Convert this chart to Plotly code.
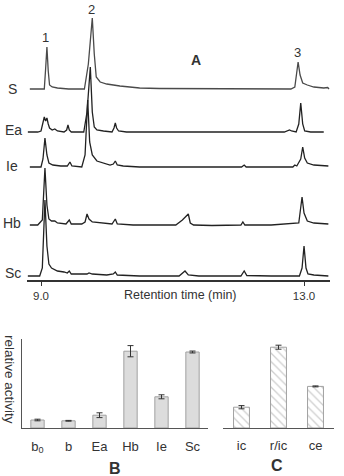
import plotly.graph_objects as go

W, H = 344, 476

# ---------------- Panel A: chromatograms (time in min, signal) ----------------
trace_names = ["S", "Ea", "Ie", "Hb", "Sc"]

S_t = [8.83, 9.05, 9.07, 9.09, 9.11, 9.13, 9.17, 9.25, 9.42, 9.66, 9.72, 9.78, 9.81, 9.84, 9.90,
       10.00, 10.20, 10.50, 10.80, 12.80, 12.86, 12.91, 12.94, 12.98, 13.05, 13.15, 13.30, 13.36, 13.38]
S_y = [0, 0, 20, 42, 18, 4, 2, 1, 0, 0, 25, 71, 35, 12, 7,
       5, 3, 1, 0.5, 0, 2, 27, 14, 6, 4, 2, 1, 1.5, 0]

Ea_t = [8.80, 8.95, 9.00, 9.03, 9.05, 9.07, 9.09, 9.11, 9.13, 9.17, 9.21, 9.25, 9.35, 9.39, 9.41,
        9.43, 9.46, 9.65, 9.70, 9.75, 9.78, 9.81, 9.85, 9.95, 10.08, 10.11, 10.13, 10.15, 10.18,
        10.30, 12.70, 12.78, 12.81, 12.88, 12.92, 12.95, 12.98, 13.01, 13.10, 13.30]
Ea_y = [0, 0, 1, 10, 15, 11, 14, 8, 4, 2, 3, 1, 0, 2, 7,
        2, 0, 0, 20, 65, 20, 5, 2, 1, 0, 4, 9, 4, 1,
        0, 0, 2, 1, 0, 8, 29, 8, 1, 0, 0]

Ie_t = [8.83, 9.00, 9.03, 9.06, 9.09, 9.12, 9.18, 9.30, 9.40, 9.44, 9.47, 9.62, 9.67, 9.71, 9.74,
        9.78, 9.85, 9.95, 10.05, 10.10, 10.13, 10.16, 10.25, 10.50, 12.05, 12.09, 12.12, 12.83,
        12.86, 12.89, 12.95, 12.98, 13.01, 13.05, 13.15, 13.37]
Ie_y = [0, 0, 8, 29, 12, 4, 2, 1, 1, 5, 1, 0, 12, 67, 25,
        12, 6, 4, 2, 3, 6, 2, 1, 0, 0, 2, 0, 0,
        2, 1, 8, 20, 9, 4, 2, 1]

Hb_t = [8.83, 8.95, 9.02, 9.06, 9.09, 9.12, 9.16, 9.21, 9.25, 9.38, 9.43, 9.46, 9.62, 9.67, 9.70,
        9.73, 9.78, 9.90, 10.08, 10.13, 10.16, 10.40, 11.05, 11.15, 11.24, 11.27, 11.32, 11.60,
        12.04, 12.07, 12.10, 12.50, 12.92, 12.97, 13.00, 13.05, 13.15, 13.37]
Hb_y = [0, 0, 5, 57, 20, 6, 4, 4, 2, 1, 5, 1, 1, 3, 11,
        6, 3, 2, 1, 6, 1, 0, 0, 5, 11, 2, 0, -0.5,
        0, 3, 0, 0, 2, 28, 12, 4, 2, 1]

Sc_t = [8.80, 8.98, 9.02, 9.06, 9.09, 9.12, 9.16, 9.25, 9.35, 9.40, 9.43, 9.46, 9.60, 9.70, 9.73,
        9.78, 10.00, 10.10, 10.13, 10.16, 10.50, 11.10, 11.19, 11.24, 11.40, 12.04, 12.09, 12.13,
        12.50, 12.93, 12.97, 13.00, 13.03, 13.06, 13.15, 13.37]
Sc_y = [0, 0, 8, 76, 30, 12, 8, 5, 4, 3, 5, 2, 2, 2, 3,
        2, 1, 2, 4, 1, 0, 0, 5, 1, 0, 0, 5, 0.5,
        0, 0, 8, 30, 8, 2, 1, 0]

chrom = {"S": (S_t, S_y), "Ea": (Ea_t, Ea_y), "Ie": (Ie_t, Ie_y),
         "Hb": (Hb_t, Hb_y), "Sc": (Sc_t, Sc_y)}
offsets = {"S": 191, "Ea": 148, "Ie": 113, "Hb": 55, "Sc": 4}
line_colors = {"S": "#4a4a4a", "Ea": "#222222", "Ie": "#222222", "Hb": "#222222", "Sc": "#222222"}

x_ticks = [9.0, 13.0]
x_ticktext = ["9.0", "13.0"]

# ---------------- Panel B / C: relative activity ----------------
B_cats = ["b<sub>0</sub>", "b", "Ea", "Hb", "Ie", "Sc"]
B_vals = [0.10, 0.09, 0.16, 0.96, 0.39, 0.95]
B_err = [0.01, 0.005, 0.03, 0.07, 0.025, 0.012]

C_cats = ["ic", "r/ic", "ce"]
C_vals = [0.26, 1.01, 0.52]
C_err = [0.02, 0.025, 0.006]


def px(x):
    return x / W


def py(y):
    return 1 - y / H


FONT = "Liberation Sans, Arial, sans-serif"
TXT = "#333333"

fig = go.Figure()

for name in trace_names:
    t, y = chrom[name]
    fig.add_trace(go.Scatter(
        x=t, y=[v + offsets[name] for v in y], mode="lines",
        line=dict(color=line_colors[name], width=1.3),
        xaxis="x", yaxis="y", showlegend=False, hoverinfo="skip"))

fig.add_trace(go.Bar(
    x=B_cats, y=B_vals, width=0.43,
    marker=dict(color="#dcdcdc", line=dict(color="#a0a0a0", width=1)),
    error_y=dict(type="data", array=B_err, color="#333333", thickness=1, width=3),
    xaxis="x2", yaxis="y2", showlegend=False))

fig.add_trace(go.Bar(
    x=C_cats, y=C_vals, width=0.43,
    marker=dict(color="white", line=dict(color="#a0a0a0", width=1),
                pattern=dict(shape="\\", fgcolor="#a0a0a0", bgcolor="white",
                             size=6, solidity=0.22)),
    error_y=dict(type="data", array=C_err, color="#333333", thickness=1, width=3),
    xaxis="x3", yaxis="y3", showlegend=False))

annotations = []
# trace labels
lab_pos = {"S": (12, 89), "Ea": (13, 130), "Ie": (12, 166), "Hb": (12, 223), "Sc": (13, 273)}
for name in trace_names:
    x, y = lab_pos[name]
    annotations.append(dict(x=px(x), y=py(y), xref="paper", yref="paper", text=name,
                            showarrow=False, xanchor="center", yanchor="middle",
                            font=dict(size=14, color=TXT, family=FONT)))
for txt, x, y in [("1", 46, 38), ("2", 92, 9), ("3", 297, 52)]:
    annotations.append(dict(x=px(x), y=py(y), xref="paper", yref="paper", text=txt,
                            showarrow=False, xanchor="center", yanchor="middle",
                            font=dict(size=13, color=TXT, family=FONT)))
annotations.append(dict(x=px(196), y=py(60), xref="paper", yref="paper", text="<b>A</b>",
                        showarrow=False, xanchor="center", yanchor="middle",
                        font=dict(size=14, color=TXT, family=FONT)))
annotations.append(dict(x=px(180), y=py(295), xref="paper", yref="paper",
                        text="Retention time (min)", showarrow=False,
                        xanchor="center", yanchor="middle",
                        font=dict(size=12.5, color=TXT, family=FONT)))
annotations.append(dict(x=px(10), y=py(379), xref="paper", yref="paper",
                        text="relative activity", showarrow=False, textangle=90,
                        xanchor="center", yanchor="middle",
                        font=dict(size=13.5, color=TXT, family=FONT)))
annotations.append(dict(x=px(115), y=py(468), xref="paper", yref="paper", text="<b>B</b>",
                        showarrow=False, xanchor="center", yanchor="middle",
                        font=dict(size=16, color=TXT, family=FONT)))
annotations.append(dict(x=px(277), y=py(465), xref="paper", yref="paper", text="<b>C</b>",
                        showarrow=False, xanchor="center", yanchor="middle",
                        font=dict(size=16, color=TXT, family=FONT)))

fig.update_layout(
    width=W, height=H,
    margin=dict(l=0, r=0, t=0, b=0),
    paper_bgcolor="white", plot_bgcolor="white",
    font=dict(family=FONT, color=TXT),
    bargap=0.5,
    annotations=annotations,
    xaxis=dict(domain=[px(27), px(330)], range=[8.787, 13.395],
               tickvals=x_ticks, ticktext=x_ticktext, ticks="outside", ticklen=4,
               tickcolor="#333", tickwidth=1, showline=True, linecolor="#333",
               linewidth=1.5, showgrid=False, zeroline=False,
               tickfont=dict(size=11.5, color=TXT, family=FONT), anchor="y"),
    yaxis=dict(domain=[py(280), py(0)], range=[0, 280], visible=False, anchor="x"),
    xaxis2=dict(domain=[px(22), px(208)], range=[-0.5, 5.5], showline=True,
                linecolor="#555", linewidth=1.2, ticks="", showgrid=False,
                ticklabelstandoff=6,
                tickfont=dict(size=13, color=TXT, family=FONT), anchor="y2"),
    yaxis2=dict(domain=[py(428), py(339)], range=[0, 1.1125], showline=True,
                linecolor="#555", linewidth=1.2, showticklabels=False, ticks="",
                showgrid=False, zeroline=False, anchor="x2"),
    xaxis3=dict(domain=[px(223), px(334)], range=[-0.5, 2.5], showline=True,
                linecolor="#555", linewidth=1.2, ticks="", showgrid=False,
                ticklabelstandoff=5,
                tickfont=dict(size=13, color=TXT, family=FONT), anchor="y3"),
    yaxis3=dict(domain=[py(428), py(339)], range=[0, 1.1125], visible=False,
                anchor="x3"),
)

fig.write_html("out.html", config={"displayModeBar": False},
               post_script="document.body.style.margin='0';document.body.style.overflow='hidden';")
